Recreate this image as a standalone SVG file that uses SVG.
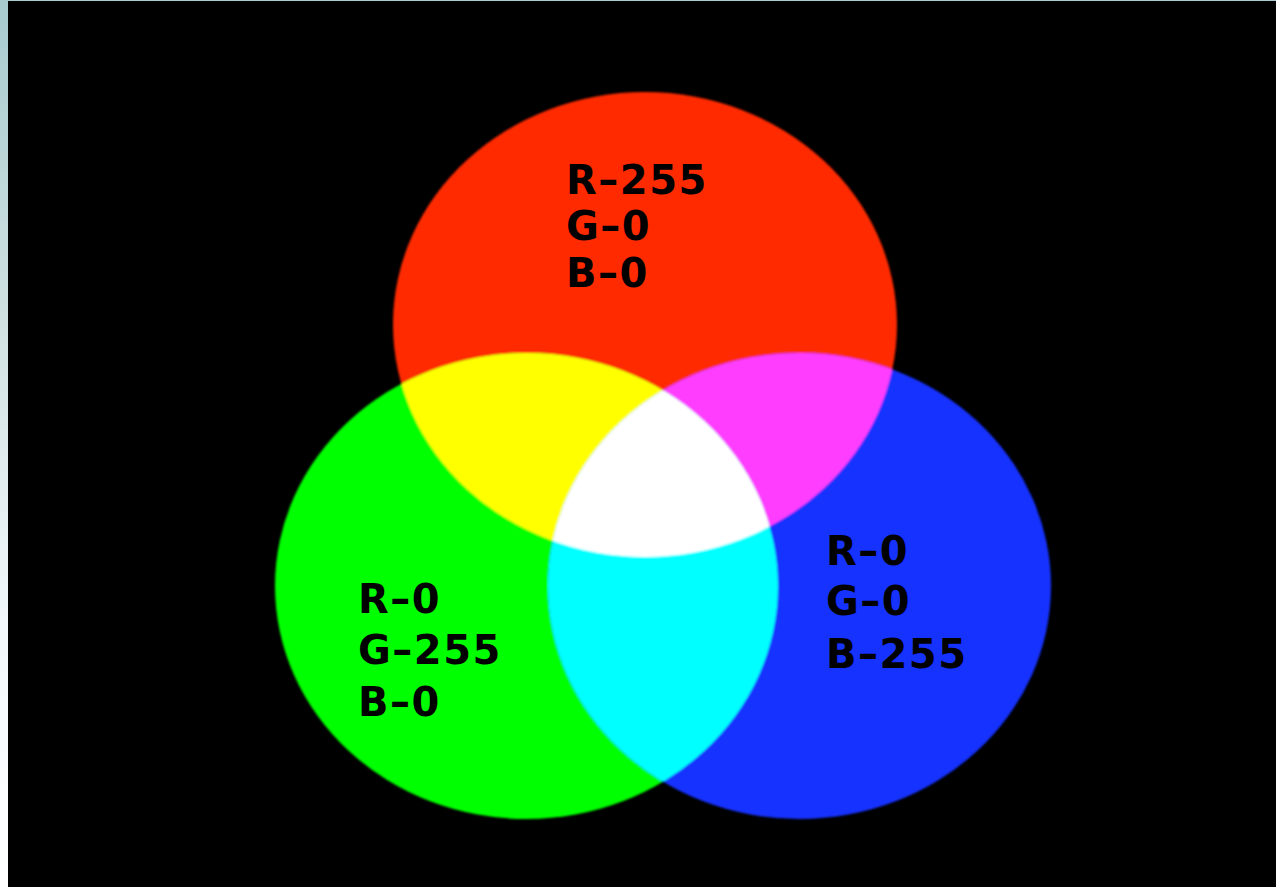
<svg xmlns="http://www.w3.org/2000/svg" width="1276" height="887" viewBox="0 0 1276 887">
<defs>
<linearGradient id="bg" x1="0" y1="0" x2="0" y2="1">
<stop offset="0" stop-color="#a7cbcf"/>
<stop offset="0.35" stop-color="#cfe0e0"/>
<stop offset="0.7" stop-color="#f2f8fb"/>
<stop offset="1" stop-color="#ffffff"/>
</linearGradient>
<filter id="soft" x="-5%" y="-5%" width="110%" height="110%"><feGaussianBlur stdDeviation="1"/></filter>
<ellipse id="eR" cx="645" cy="324.5" rx="252" ry="232.5"/>
<ellipse id="eG" cx="526.5" cy="586" rx="251.5" ry="233"/>
<ellipse id="eB" cx="799.5" cy="586" rx="251.5" ry="233"/>
<clipPath id="cR"><use href="#eR"/></clipPath>
<clipPath id="cG"><use href="#eG"/></clipPath>
<clipPath id="cB"><use href="#eB"/></clipPath>
</defs>
<style>
.t{font-family:"DejaVu Sans",Verdana,sans-serif;font-weight:bold;font-size:40px;letter-spacing:1.5px;fill:#000}
</style>
<rect x="0" y="0" width="1276" height="887" fill="url(#bg)"/>
<rect x="8" y="1" width="1268" height="886" fill="#000"/>
<g id="circles" filter="url(#soft)">
<use id="red" href="#eR" fill="#ff2a00"/>
<use id="green" href="#eG" fill="#00ff00"/>
<use id="blue" href="#eB" fill="#1432ff"/>
<g clip-path="url(#cR)"><use href="#eG" fill="#ffff00"/></g>
<g clip-path="url(#cR)"><use href="#eB" fill="#ff3cff"/></g>
<g clip-path="url(#cG)"><use href="#eB" fill="#00ffff"/></g>
<g clip-path="url(#cR)"><g clip-path="url(#cG)"><use href="#eB" fill="#ffffff"/></g></g>
</g>
<g id="label-red" class="t">
<text x="566" y="194">R–255</text>
<text x="566" y="240">G–0</text>
<text x="566" y="287">B–0</text>
</g>
<g id="label-green" class="t">
<text x="358" y="613">R–0</text>
<text x="358" y="664">G–255</text>
<text x="358" y="716">B–0</text>
</g>
<g id="label-blue" class="t">
<text x="826" y="565">R–0</text>
<text x="826" y="615">G–0</text>
<text x="826" y="668">B–255</text>
</g>
</svg>
